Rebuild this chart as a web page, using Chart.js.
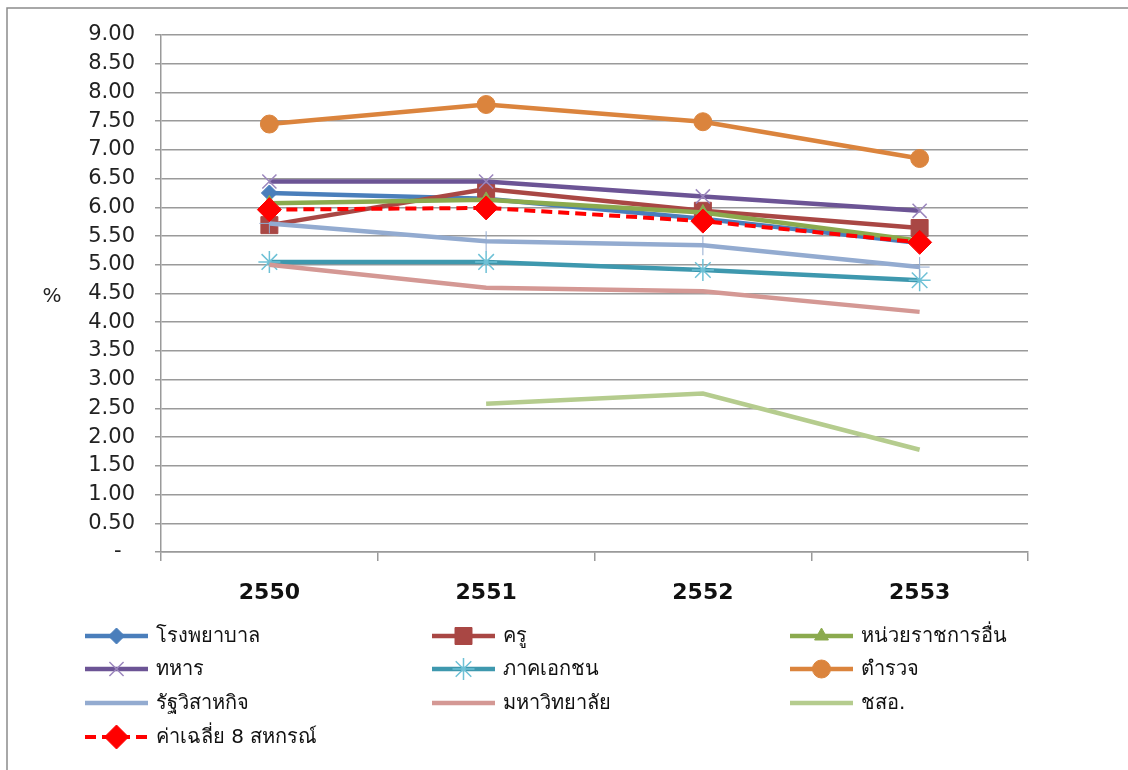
<!DOCTYPE html>
<html>
<head>
<meta charset="utf-8">
<script src="https://cdn.jsdelivr.net/npm/chart.js@4"></script>
<style>
  body { margin: 0; background: #fff; }
  #wrap { position: absolute; left: 0; top: 0; width: 1128px; height: 770px; }
</style>
</head>
<body>
<div id="wrap"><canvas id="coopChart" width="1128" height="770"></canvas></div>
<script>
// years (Buddhist era)
const years = ['2550', '2551', '2552', '2553'];

const hospital   = [6.25, 6.15, 5.80, 5.38];   // โรงพยาบาล
const teacher    = [5.69, 6.32, 5.94, 5.64];   // ครู
const govOther   = [6.07, 6.13, 5.91, 5.42];   // หน่วยราชการอื่น
const soldier    = [6.45, 6.45, 6.19, 5.94];   // ทหาร
const privateCo  = [5.05, 5.05, 4.91, 4.73];   // ภาคเอกชน
const police     = [7.45, 7.79, 7.49, 6.85];   // ตำรวจ
const stateEnt   = [5.72, 5.41, 5.34, 4.96];   // รัฐวิสาหกิจ
const university = [5.00, 4.60, 4.54, 4.18];   // มหาวิทยาลัย
const chso       = [null, 2.58, 2.76, 1.78];   // ชสอ.
const average    = [5.96, 5.99, 5.76, 5.39];   // ค่าเฉลี่ย 8 สหกรณ์

const yTicks = [0, 0.5, 1, 1.5, 2, 2.5, 3, 3.5, 4, 4.5, 5, 5.5, 6, 6.5, 7, 7.5, 8, 8.5, 9];

const FONT = "Tahoma, 'DejaVu Sans', 'Noto Sans', sans-serif";

function series(label, data, color, style, radius, extra) {
  return Object.assign({
    label: label,
    data: data,
    borderColor: color,
    backgroundColor: color,
    borderWidth: 4.5,
    pointStyle: style || false,
    pointRadius: style ? radius : 0,
    pointBorderWidth: 1,
    pointBackgroundColor: color,
    pointBorderColor: color,
    tension: 0,
    spanGaps: false
  }, extra || {});
}

const datasets = [
  series('โรงพยาบาล', hospital, '#4A7EBB', 'rectRot', 8),
  series('ครู', teacher, '#A94744', 'rect', 12),
  series('หน่วยราชการอื่น', govOther, '#8BAA4E', 'triangle', 8),
  series('ทหาร', soldier, '#6C5495', 'crossRot', 10, { pointBorderColor: '#9B86BD', pointBorderWidth: 1.5 }),
  series('ภาคเอกชน', privateCo, '#3E98AE', 'star', 11, { pointBorderColor: '#6EC1D6', pointBorderWidth: 1.5 }),
  series('ตำรวจ', police, '#DB843D', 'circle', 9),
  series('รัฐวิสาหกิจ', stateEnt, '#93ABD0', 'cross', 10, { pointBorderWidth: 1, legendNoMarker: true }),
  series('มหาวิทยาลัย', university, '#D49894', null, 0),
  series('ชสอ.', chso, '#B5CC8E', null, 0),
  series('ค่าเฉลี่ย 8 สหกรณ์', average, '#FF0000', 'rectRot', 12, { borderWidth: 4, borderDash: [11, 6] })
];
// later series drawn on top, as in the original
datasets.forEach((d, i) => { d.order = datasets.length - i; });

const frameAndLegend = {
  id: 'frameAndLegend',
  afterDraw(chart) {
    const ctx = chart.ctx;
    ctx.save();
    // outer frame (left and top visible)
    ctx.strokeStyle = '#8c8c8c';
    ctx.lineWidth = 1.5;
    ctx.beginPath();
    ctx.moveTo(7, 770);
    ctx.lineTo(7, 8);
    ctx.lineTo(1128, 8);
    ctx.stroke();

    // axis title %
    ctx.fillStyle = '#222';
    ctx.font = '20px ' + FONT;
    ctx.textAlign = 'center';
    ctx.textBaseline = 'middle';
    ctx.fillText('%', 52, 297);

    // legend, 3 columns
    const cols = [85, 432, 790];
    const rows = [636, 669, 703, 737];
    const lineLen = 63;
    chart.data.datasets.forEach((ds, i) => {
      const x = cols[i % 3];
      const y = rows[Math.floor(i / 3)];
      ctx.strokeStyle = ds.borderColor;
      ctx.lineWidth = ds.borderWidth;
      ctx.setLineDash(ds.borderDash || []);
      ctx.beginPath();
      ctx.moveTo(x, y);
      ctx.lineTo(x + lineLen, y);
      ctx.stroke();
      ctx.setLineDash([]);
      if (ds.pointStyle && !ds.legendNoMarker) {
        ctx.fillStyle = ds.pointBackgroundColor;
        ctx.strokeStyle = ds.pointBorderColor;
        ctx.lineWidth = ds.pointBorderWidth;
        Chart.helpers.drawPoint(ctx, {
          pointStyle: ds.pointStyle,
          radius: ds.pointRadius,
          rotation: 0,
          borderWidth: ds.pointBorderWidth
        }, x + lineLen / 2, y);
      }
      ctx.fillStyle = '#111';
      ctx.font = '20px ' + FONT;
      ctx.textAlign = 'left';
      ctx.textBaseline = 'middle';
      ctx.fillText(ds.label, x + lineLen + 8, y + 1);
    });
    ctx.restore();
  }
};

const config = {
  type: 'line',
  data: { labels: years, datasets: datasets },
  options: {
    responsive: false,
    animation: false,
    layout: { padding: { left: 0, top: 35, right: 100, bottom: 158 } },
    plugins: {
      legend: { display: false },
      tooltip: { enabled: false }
    },
    scales: {
      x: {
        offset: true,
        afterFit: (scale) => { scale.height = 60; },
        grid: {
          offset: true,
          drawOnChartArea: false,
          color: '#9a9a9a',
          lineWidth: 1.5,
          tickLength: 9
        },
        border: { color: '#9a9a9a', width: 1.5 },
        ticks: {
          color: '#111',
          padding: 19,
          font: { family: FONT, size: 22, weight: 'bold' }
        }
      },
      y: {
        min: 0,
        max: 9,
        afterFit: (scale) => { scale.width = 161; },
        afterBuildTicks: (scale) => { scale.ticks = yTicks.map(v => ({ value: v })); },
        grid: {
          color: '#9a9a9a',
          lineWidth: 1.5,
          tickLength: 6
        },
        border: { color: '#9a9a9a', width: 1.5 },
        ticks: {
          color: '#222',
          padding: 20,
          font: { family: FONT, size: 21 },
          callback: (v) => v === 0 ? '-  ' : Number(v).toFixed(2)
        }
      }
    }
  },
  plugins: [frameAndLegend]
};

const ctx = document.getElementById('coopChart').getContext('2d');
const coopChart = new Chart(ctx, config);
</script>
</body>
</html>
